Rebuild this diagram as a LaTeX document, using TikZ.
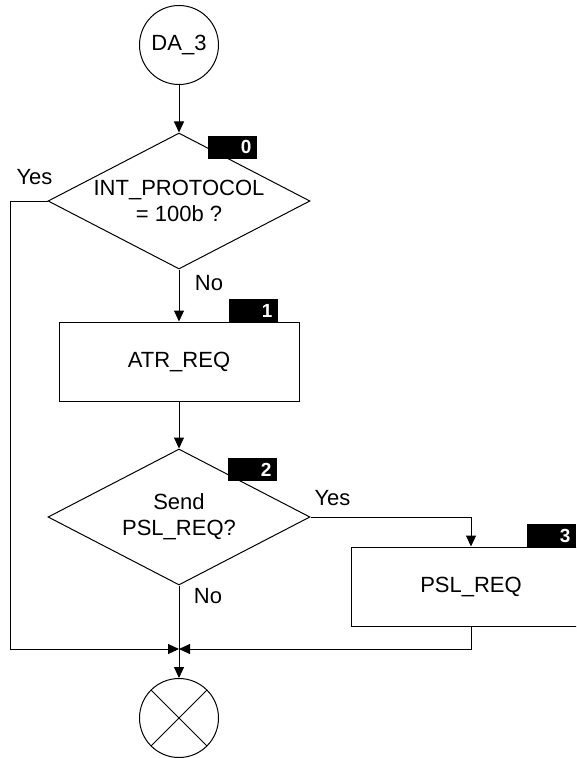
\documentclass[tikz,border=0pt]{standalone}
\usepackage{fontspec}
\setmainfont{Liberation Sans}
\usepackage{tikz}
\usetikzlibrary{positioning,shapes,arrows.meta}

\begin{document}
\begin{tikzpicture}[x=1pt, y=-1pt, line width=1pt,
  term/.style = {draw, circle, minimum size=79pt, inner sep=0pt, font=\fontsize{22}{26}\selectfont},
  decide/.style = {draw, diamond, aspect=1.93, inner sep=0pt, minimum width=262pt, minimum height=136pt, align=center, font=\fontsize{22}{26}\selectfont},
  action/.style = {draw, rectangle, minimum width=240pt, minimum height=79pt, font=\fontsize{22}{26}\selectfont},
  tagbox/.style = {fill=black, text=white, minimum width=49pt, minimum height=23pt, inner xsep=5pt, inner ysep=0pt, anchor=east, font=\fontsize{19}{19}\selectfont\bfseries},
  lbl/.style = {inner sep=0pt, font=\fontsize{22}{26}\selectfont},
  flow/.style = {-{Triangle[length=11pt,width=10pt]}}]
\useasboundingbox (0,0) rectangle (576,758);
\clip (0,0) rectangle (576,758);

\node[term] (start) at (179,45) {DA\_3};
\node[decide] (d0) at (179,201) {INT\_PROTOCOL\\= 100b ?};
\node[action] (atr) at (179,361.5) {ATR\_REQ};
\node[decide] (d2) at (179,517) {Send\\PSL\_REQ?};
\node[action] (psl) at (471,586.5) {PSL\_REQ};
\node[term, path picture={\draw (path picture bounding box.north west) -- (path picture bounding box.south east)
  (path picture bounding box.north east) -- (path picture bounding box.south west);}] (stop) at (179,718) {};

\coordinate (low) at (10,649);
\coordinate (merge) at (d2.south |- low);

\draw[flow] (start) -- (d0);
\draw[flow] (d0) -- (atr);
\draw[flow] (atr) -- (d2);
\draw[flow] (d2.east) -| (psl.north);
\draw[flow] (d0.west) -| (low) -- (merge);
\draw[flow] (psl.south) |- (merge);
\draw[flow] (d2.south) -- (stop);

\node[lbl] (yes0) at ([xshift=-13pt,yshift=24pt]d0.west) {Yes};
\node[lbl] (no0) at ([xshift=30pt,yshift=-14pt]d0.south) {No};
\node[lbl] (yes2) at ([xshift=22pt,yshift=19pt]d2.east) {Yes};
\node[lbl] (no2) at ([xshift=29pt,yshift=-11pt]d2.south) {No};

% step tags, digit at the right end
\foreach \n/\x/\y in {0/257/147, 1/278/310.5, 2/277/469.5, 3/576/535.5}
  \node[tagbox] (tag\n) at (\x,\y) {\makebox[39pt][r]{\n}};
\end{tikzpicture}
\end{document}
